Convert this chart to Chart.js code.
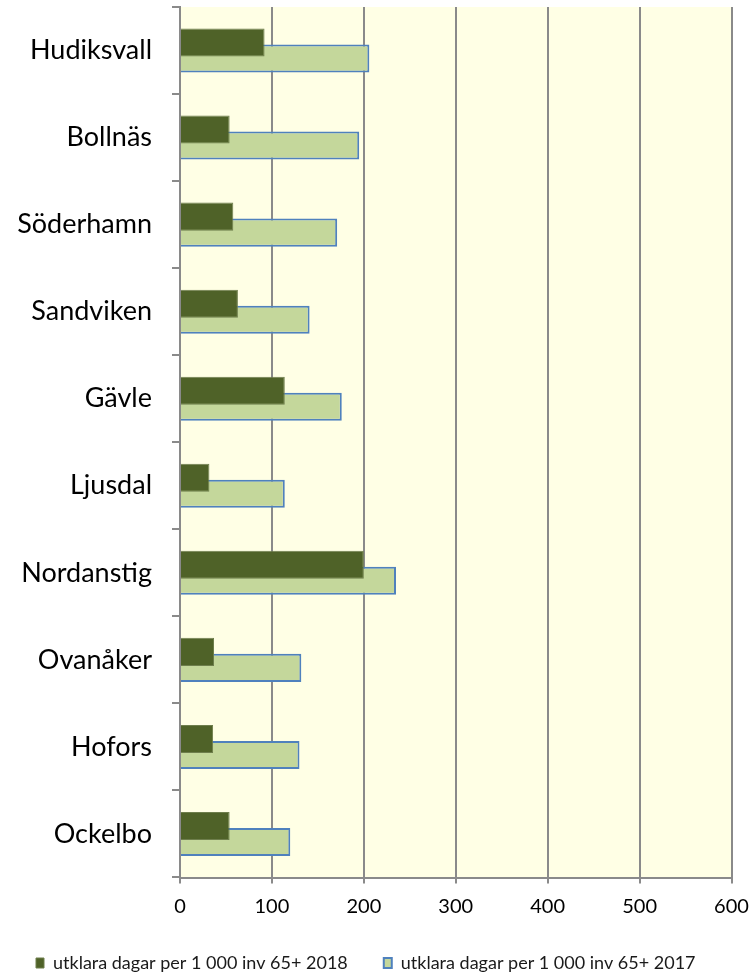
<!DOCTYPE html>
<html>
<head>
<meta charset="utf-8">
<script src="https://cdn.jsdelivr.net/npm/chart.js@4"></script>
<style>
html,body{margin:0;padding:0;background:#fff;}
#wrap{width:756px;height:973px;position:relative;}
</style>
</head>
<body>
<div id="wrap"><canvas id="c" width="756" height="973"></canvas></div>
<script>
const categories = ['Hudiksvall','Bollnäs','Söderhamn','Sandviken','Gävle','Ljusdal','Nordanstig','Ovanåker','Hofors','Ockelbo'];
const values2018 = [92, 54, 58, 63, 114, 32, 200, 37, 36, 54];
const values2017 = [206, 195, 171, 141, 176, 114, 235, 132, 130, 120];
const seriesNames = ['utklara dagar per 1 000 inv 65+ 2018', 'utklara dagar per 1 000 inv 65+ 2017'];
const xTicks = [0, 100, 200, 300, 400, 500, 600];

const plotBg = {
  id: 'plotBg',
  beforeDraw(chart) {
    const {ctx, chartArea: a} = chart;
    ctx.save();
    ctx.fillStyle = '#FFFFE5';
    ctx.fillRect(a.left, a.top, a.right - a.left, a.bottom - a.top);
    ctx.restore();
  }
};

Chart.defaults.font.family = 'Lato, Carlito, "Open Sans", sans-serif';

new Chart(document.getElementById('c'), {
  type: 'bar',
  data: {
    labels: categories,
    datasets: [
      {
        label: seriesNames[0],
        data: values2018,
        backgroundColor: '#4F6228',
        borderColor: '#6E7E4C',
        borderWidth: 1,
        borderSkipped: 'start',
        categoryPercentage: 0.368,
        barPercentage: 1.75
      },
      {
        label: seriesNames[1],
        data: values2017,
        backgroundColor: '#C4D79B',
        borderColor: '#4F81BD',
        borderWidth: 2,
        borderSkipped: 'start',
        categoryPercentage: 0.368,
        barPercentage: 1.75
      }
    ]
  },
  options: {
    indexAxis: 'y',
    responsive: false,
    animation: false,
    devicePixelRatio: 1,
    layout: { padding: { top: 7, right: 0, left: 0, bottom: 0 } },
    plugins: {
      legend: {
        position: 'bottom',
        align: 'start',
        maxHeight: 55,
        labels: {
          boxWidth: 8,
          boxHeight: 10,
          padding: 36,
          color: '#1a1a1a',
          font: { size: 18 }
        }
      },
      tooltip: { enabled: false }
    },
    scales: {
      x: {
        min: 0,
        max: 600,
        afterBuildTicks(scale) { scale.ticks = xTicks.map(v => ({ value: v })); },
        afterFit(scale) { scale.height = 40.5; scale.paddingLeft = 0; scale.paddingRight = 24.5; },
        ticks: { color: '#000', font: { size: 20 }, padding: 11 },
        grid: { color: '#8a8a8a', lineWidth: 2, drawTicks: true, tickLength: 6 },
        border: { color: '#8a8a8a', width: 2 }
      },
      y: {
        afterFit(scale) { scale.width = 180; scale.paddingTop = 0; scale.paddingBottom = 0; },
        ticks: { color: '#000', font: { size: 27 }, padding: 20 },
        grid: { color: '#8a8a8a', lineWidth: 2, drawOnChartArea: false, drawTicks: true, tickLength: 8, offset: true },
        border: { color: '#8a8a8a', width: 2 }
      }
    }
  },
  plugins: [plotBg]
});
</script>
</body>
</html>
